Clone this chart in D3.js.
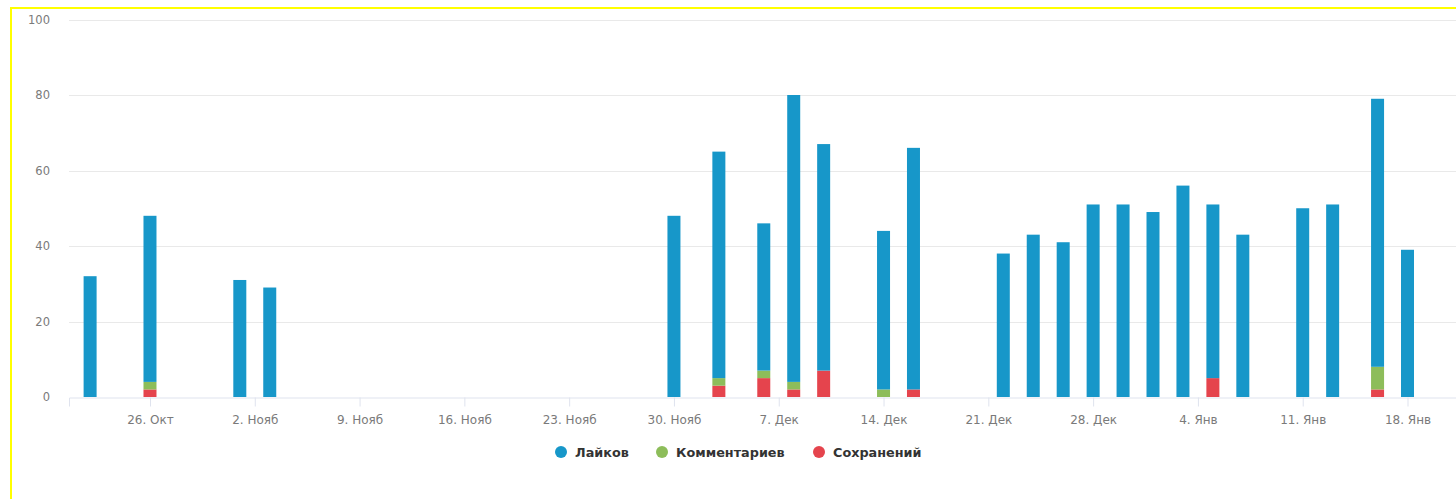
<!DOCTYPE html>
<html><head><meta charset="utf-8">
<script src="https://cdn.jsdelivr.net/npm/d3@7"></script>
<style>
html,body{margin:0;padding:0;background:#fff;}
svg{display:block;font-family:"DejaVu Sans",sans-serif;}
</style></head>
<body><svg id="chart" width="1456" height="499"></svg>
<script>
// ---- data ----
const dates = ["2020-10-22","2020-10-26","2020-11-01","2020-11-03","2020-11-30","2020-12-03","2020-12-06","2020-12-08","2020-12-10","2020-12-14","2020-12-16","2020-12-22","2020-12-24","2020-12-26","2020-12-28","2020-12-30","2021-01-01","2021-01-03","2021-01-05","2021-01-07","2021-01-11","2021-01-13","2021-01-16","2021-01-18"];
const likes    = [32,44,31,29,48,60,39,76,60,42,64,38,43,41,51,51,49,56,46,43,50,51,71,39];
const comments = [0,2,0,0,0,2,2,2,0,2,0,0,0,0,0,0,0,0,0,0,0,0,6,0];
const saves    = [0,2,0,0,0,3,5,2,7,0,2,0,0,0,0,0,0,0,5,0,0,0,2,0];
const seriesNames = ["Лайков","Комментариев","Сохранений"];
const seriesColors = ["#1797c9","#8dbd5a","#e5444d"];
const tickDates = ["2020-10-26","2020-11-02","2020-11-09","2020-11-16","2020-11-23","2020-11-30","2020-12-07","2020-12-14","2020-12-21","2020-12-28","2021-01-04","2021-01-11","2021-01-18"];
const tickLabels = ["26. Окт","2. Нояб","9. Нояб","16. Нояб","23. Нояб","30. Нояб","7. Дек","14. Дек","21. Дек","28. Дек","4. Янв","11. Янв","18. Янв"];
const yTicks = [0,20,40,60,80,100];
const xDomain = ["2020-10-20T14:10:00Z","2021-01-21T05:45:00Z"];

// ---- layout ----
const svg = d3.select("#chart");
const plot = {left:69, right:1456, top:19.5, bottom:397};
const parse = s => new Date(s.length===10 ? s+"T00:00:00Z" : s);

const x = d3.scaleUtc().domain(xDomain.map(parse)).range([plot.left, plot.right]);
const y = d3.scaleLinear().domain([0,100]).range([plot.bottom, plot.top]);

// grid
svg.append("g").selectAll("line").data(yTicks.filter(d=>d>0)).join("line")
  .attr("x1",plot.left).attr("x2",plot.right)
  .attr("y1",d=>Math.round(y(d))+0.5).attr("y2",d=>Math.round(y(d))+0.5)
  .attr("stroke","#e9e9e9").attr("stroke-width",1);

// y labels
svg.append("g").selectAll("text").data(yTicks).join("text")
  .attr("x",50).attr("y",d=>y(d)+4)
  .attr("text-anchor","end").attr("font-size",11.5).attr("fill","#7a7a7a")
  .text(d=>d);

// stacked bars
const rows = dates.map((d,i)=>({date:parse(d), likes:likes[i], comments:comments[i], saves:saves[i]}));
const keys = ["saves","comments","likes"];
const colorByKey = {likes:seriesColors[0], comments:seriesColors[1], saves:seriesColors[2]};
const stack = d3.stack().keys(keys)(rows);
const bw = 13;
svg.append("g").selectAll("g").data(stack).join("g")
  .attr("fill",s=>colorByKey[s.key])
  .selectAll("rect").data(s=>s.filter(p=>p[1]-p[0]>0)).join("rect")
  .attr("x",p=>x(p.data.date)-bw/2).attr("width",bw)
  .attr("y",p=>y(p[1])).attr("height",p=>y(p[0])-y(p[1]));

// x axis
const xAxis = d3.axisBottom(x)
  .tickValues(tickDates.map(parse))
  .tickFormat((d,i)=>tickLabels[i])
  .tickSize(9).tickPadding(9);
const gx = svg.append("g").attr("transform",`translate(0,${plot.bottom+0.5})`).call(xAxis);
gx.select(".domain").attr("stroke","#dfe3ee");
gx.selectAll(".tick line").attr("stroke","#dfe3ee");
gx.selectAll(".tick text").attr("font-size",12).attr("fill","#7a7a7a").attr("font-family","DejaVu Sans, sans-serif");

// legend
const legendItems = [{x:561},{x:662},{x:819}];
const lg = svg.append("g");
legendItems.forEach((it,i)=>{
  lg.append("circle").attr("cx",it.x).attr("cy",452).attr("r",6).attr("fill",seriesColors[i]);
  lg.append("text").attr("x",it.x+14).attr("y",456.5).attr("font-size",12.8)
    .attr("font-weight","bold").attr("fill","#333").text(seriesNames[i]);
});

// yellow frame
svg.append("rect").attr("x",11).attr("y",8).attr("width",1460).attr("height",500)
  .attr("fill","none").attr("stroke","#ffff00").attr("stroke-width",2);
</script>
</body></html>
